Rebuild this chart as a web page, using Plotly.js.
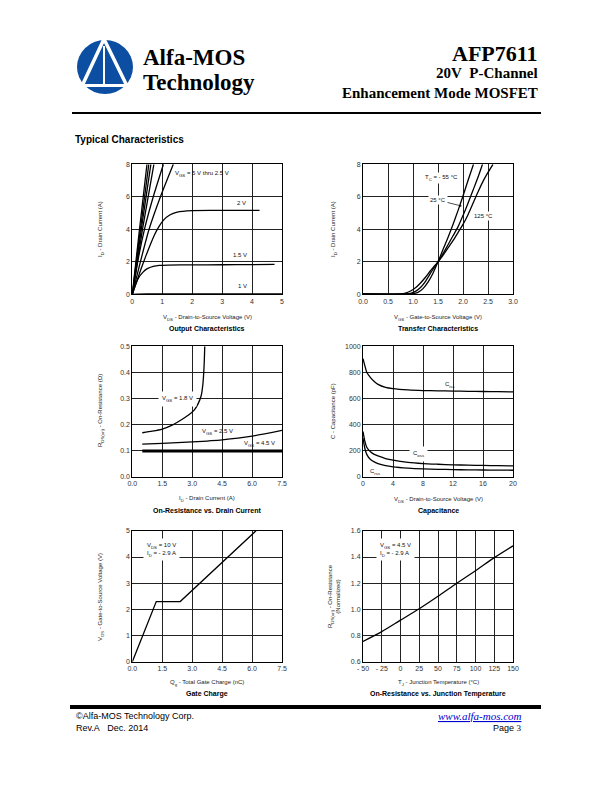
<!DOCTYPE html>
<html>
<head>
<meta charset="utf-8">
<script src="https://cdn.plot.ly/plotly-3.0.1.min.js"></script>
<style>html,body{margin:0;padding:0;background:#fff;}#chart{width:612px;height:792px;}</style>
</head>
<body>
<div id="chart"></div>
<script>
// ---------- DATA ----------
// Output characteristics (VDS in V, ID in A)
const outVgs5Vds = [0, 0.24, 0.49];          const outVgs5Id = [0, 4, 8];
const outVgs45Vds = [0, 0.27, 0.55];         const outVgs45Id = [0, 4, 8];
const outVgs4Vds = [0, 0.3, 0.62];           const outVgs4Id = [0, 4, 8];
const outVgs35Vds = [0, 0.34, 0.72];         const outVgs35Id = [0, 4, 8];
const outVgs3Vds = [0, 0.2, 0.42, 0.7, 1.04]; const outVgs3Id = [0, 2.2, 4.1, 6.0, 8];
const outVgs25Vds = [0, 0.27, 0.56, 0.94, 1.37]; const outVgs25Id = [0, 2.0, 4.0, 6.0, 8];
const outVgs2Vds = [0, 0.15, 0.3, 0.45, 0.6, 0.75, 0.9, 1.05, 1.25, 1.5, 2.0, 3.0, 4.25];
const outVgs2Id  = [0, 0.8, 1.6, 2.35, 3.05, 3.7, 4.2, 4.58, 4.88, 5.06, 5.15, 5.16, 5.16];
const outVgs15Vds = [0, 0.1, 0.2, 0.35, 0.5, 0.7, 0.9, 1.2, 2, 3, 4, 4.75];
const outVgs15Id  = [0, 0.55, 0.98, 1.35, 1.58, 1.72, 1.78, 1.8, 1.81, 1.82, 1.83, 1.84];
const outVgs1Vds = [0, 0.5, 5];              const outVgs1Id = [0, 0.02, 0.03];

// Transfer characteristics (VGS in V, ID in A)
const trM55Vgs = [0, 0.9, 1.0, 1.1, 1.2, 1.3, 1.4, 1.5, 1.6, 1.7, 1.8, 1.9, 2.0, 2.1, 2.21];
const trM55Id  = [0.02, 0.02, 0.04, 0.12, 0.35, 0.75, 1.3, 2.0, 2.75, 3.5, 4.3, 5.15, 6.05, 7.0, 8];
const tr25Vgs = [0, 0.85, 0.95, 1.05, 1.15, 1.25, 1.35, 1.5, 1.6, 1.7, 1.8, 1.9, 2.0, 2.1, 2.2, 2.3, 2.39];
const tr25Id  = [0.02, 0.02, 0.06, 0.18, 0.42, 0.8, 1.3, 2.0, 2.5, 3.05, 3.6, 4.15, 4.85, 5.6, 6.4, 7.2, 8];
const tr125Vgs = [0, 0.75, 0.85, 0.95, 1.05, 1.15, 1.25, 1.35, 1.5, 1.6, 1.7, 1.8, 1.9, 2.0, 2.1, 2.2, 2.3, 2.4, 2.5, 2.6];
const tr125Id  = [0.02, 0.02, 0.07, 0.2, 0.4, 0.7, 1.05, 1.45, 2.0, 2.4, 2.85, 3.3, 3.8, 4.3, 4.9, 5.6, 6.3, 6.95, 7.5, 8];

// On-resistance vs drain current (ID in A, R in ohm)
const ronVgs18Id = [0.5, 1.0, 1.5, 2.0, 2.4, 2.8, 3.1, 3.3, 3.45, 3.53, 3.58, 3.61, 3.63];
const ronVgs18R  = [0.168, 0.174, 0.182, 0.197, 0.215, 0.235, 0.255, 0.28, 0.31, 0.35, 0.4, 0.45, 0.5];
const ronVgs25Id = [0.5, 1.5, 3.0, 4.5, 6.0, 7.5];
const ronVgs25R  = [0.124, 0.127, 0.133, 0.141, 0.155, 0.177];
const ronVgs45Id = [0.5, 2.0, 4.0, 6.0, 7.5];
const ronVgs45R  = [0.098, 0.098, 0.098, 0.098, 0.098];

// Capacitance (VDS in V, C in pF)
const capVds = [0, 0.25, 0.5, 1, 1.5, 2, 3, 4, 6, 8, 10, 12, 14, 16, 18, 20];
const capCiss = [905, 850, 800, 760, 730, 708, 685, 675, 665, 660, 658, 656, 654, 653, 652, 650];
const capCoss = [345, 270, 225, 190, 170, 158, 138, 125, 108, 99, 94, 90, 87, 85, 83, 82];
const capCrss = [295, 215, 170, 130, 112, 99, 83, 74, 64, 58, 55, 53, 51, 50, 49, 48];

// Gate charge (Qg in nC, VGS in V)
const gcQg = [0, 1.2, 2.4, 6.2];
const gcVgs = [0, 2.3, 2.3, 5];

// On-resistance vs junction temperature (TJ in C, normalized R)
const rtTj = [-50, -25, 0, 25, 50, 75, 100, 125, 150];
const rtR  = [0.755, 0.83, 0.918, 1.005, 1.1, 1.2, 1.295, 1.395, 1.485];

// Tick labels
const tjTickVals = [-50, -25, 0, 25, 50, 75, 100, 125, 150];
const tjTickText = ['- 50', '- 25', '0', '25', '50', '75', '100', '125', '150'];

// ---------- LAYOUT HELPERS ----------
const W = 612, H = 792;
const px = x => x / W;
const py = y => 1 - y / H;
const SANS = 'Liberation Sans, Arial, sans-serif';
const SERIF = 'Liberation Serif, Times New Roman, serif';
// subscript with an explicit pixel size
const s = t => '<span style="font-size:4.3px;baseline-shift:-1.6px">' + t + '</span>';

function ln(x, y, xa, ya, opts) {
  return Object.assign({type: 'scatter', mode: 'lines', x: x, y: y, xaxis: xa, yaxis: ya,
    line: {color: '#000', width: 1.3, shape: 'spline', smoothing: 0.6}, hoverinfo: 'skip', showlegend: false}, opts || {});
}

const data = [
  ln(outVgs5Vds, outVgs5Id, 'x', 'y'),
  ln(outVgs45Vds, outVgs45Id, 'x', 'y'),
  ln(outVgs4Vds, outVgs4Id, 'x', 'y'),
  ln(outVgs35Vds, outVgs35Id, 'x', 'y'),
  ln(outVgs3Vds, outVgs3Id, 'x', 'y'),
  ln(outVgs25Vds, outVgs25Id, 'x', 'y'),
  ln(outVgs2Vds, outVgs2Id, 'x', 'y'),
  ln(outVgs15Vds, outVgs15Id, 'x', 'y'),
  ln(outVgs1Vds, outVgs1Id, 'x', 'y'),

  ln(trM55Vgs, trM55Id, 'x2', 'y2'),
  ln(tr25Vgs, tr25Id, 'x2', 'y2'),
  ln(tr125Vgs, tr125Id, 'x2', 'y2'),

  ln(ronVgs18Id, ronVgs18R, 'x3', 'y3'),
  ln(ronVgs25Id, ronVgs25R, 'x3', 'y3'),
  ln(ronVgs45Id, ronVgs45R, 'x3', 'y3', {line: {color: '#000', width: 3}}),

  ln(capVds, capCiss, 'x4', 'y4'),
  ln(capVds, capCoss, 'x4', 'y4'),
  ln(capVds, capCrss, 'x4', 'y4'),

  ln(gcQg, gcVgs, 'x5', 'y5', {line: {color: '#000', width: 1.3, shape: 'linear'}}),

  ln(rtTj, rtR, 'x6', 'y6')
];

const LX = [px(132.3), px(282)];
const RX = [px(363), px(513)];
const R1 = [py(294.3), py(164.3)];
const R2 = [py(476.5), py(346.3)];
const R3 = [py(661.8), py(530.8)];

function ax(domain, range, dtick, anchor, extra) {
  return Object.assign({
    domain: domain, range: range, dtick: dtick, tick0: range[0], anchor: anchor,
    showline: true, mirror: true, linecolor: '#000', linewidth: 1,
    showgrid: true, gridcolor: '#222', gridwidth: 1, zeroline: false,
    ticks: '', tickfont: {family: SANS, size: 7, color: '#333'}, fixedrange: true
  }, extra || {});
}

const tinyFont = {family: SANS, size: 6, color: '#111'};
const titleFont = {family: SANS, size: 6, color: '#222'};
const capFont = {family: SANS, size: 7, color: '#000', weight: 'bold'};

function pa(text, x, y, font, extra) {
  return Object.assign({text: text, x: px(x), y: py(y), xref: 'paper', yref: 'paper',
    showarrow: false, xanchor: 'center', yanchor: 'middle', font: font || titleFont}, extra || {});
}
function da(text, x, y, xr, yr, extra) {
  return Object.assign({text: text, x: x, y: y, xref: xr, yref: yr, showarrow: false,
    xanchor: 'left', yanchor: 'middle', font: tinyFont, bgcolor: '#fff', borderpad: 1}, extra || {});
}

const annotations = [
  // header
  pa('<b>Alfa-MOS</b>', 141, 58, {family: SERIF, size: 23, color: '#000'}, {xanchor: 'left'}),
  pa('<b>Technology</b>', 141, 83, {family: SERIF, size: 23, color: '#000'}, {xanchor: 'left'}),
  pa('<b>AFP7611</b>', 540, 54, {family: SERIF, size: 22, color: '#000'}, {xanchor: 'right'}),
  pa('<b>20V\u00a0\u00a0P-Channel</b>', 540, 73.5, {family: SERIF, size: 15, color: '#000'}, {xanchor: 'right'}),
  pa('<b>Enhancement Mode MOSFET</b>', 540, 93, {family: SERIF, size: 15, color: '#000'}, {xanchor: 'right'}),
  pa('<b>Typical Characteristics</b>', 73, 139, {family: SANS, size: 10, color: '#000'}, {xanchor: 'left'}),

  // plot 1
  pa('V' + s('DS') + ' - Drain-to-Source Voltage (V)', 207, 317.5, titleFont),
  pa('Output Characteristics', 207, 328.5, capFont),
  pa('I' + s('D') + ' - Drain Current (A)', 101, 229, titleFont, {textangle: -90}),
  da('V' + s('GS') + ' = 5 V thru 2.5 V', 1.36, 7.4, 'x', 'y', {bgcolor: 'rgba(0,0,0,0)'}),
  da('2 V', 3.42, 5.6, 'x', 'y', {bgcolor: 'rgba(0,0,0,0)'}),
  da('1.5 V', 3.28, 2.42, 'x', 'y', {bgcolor: 'rgba(0,0,0,0)'}),
  da('1 V', 3.46, 0.51, 'x', 'y', {bgcolor: 'rgba(0,0,0,0)'}),

  // plot 2
  pa('V' + s('GS') + ' - Gate-to-Source Voltage (V)', 438, 317.5, titleFont),
  pa('Transfer Characteristics', 438, 328.5, capFont),
  pa('I' + s('D') + ' - Drain Current (A)', 334, 229, titleFont, {textangle: -90}),
  da('T' + s('C') + ' = - 55 °C', 1.57, 7.14, 'x2', 'y2', {xanchor: 'center'}),
  {text: '25 °C', x: 1.97, y: 5.43, xref: 'x2', yref: 'y2', ax: 1.5, ay: 5.8, axref: 'x2', ayref: 'y2',
   showarrow: true, arrowhead: 1, arrowsize: 0.6, arrowwidth: 0.7, arrowcolor: '#000', standoff: 0,
   font: tinyFont, bgcolor: '#fff', borderpad: 1},
  da('125 °C', 2.41, 4.82, 'x2', 'y2', {xanchor: 'center'}),

  // plot 3
  pa('I' + s('D') + ' - Drain Current (A)', 207, 499, titleFont),
  pa('On-Resistance vs. Drain Current', 207, 510.5, capFont),
  pa('R' + s('DS(on)') + ' - On-Resistance (Ω)', 101, 411, titleFont, {textangle: -90}),
  da('V' + s('GS') + ' = 1.8 V', 1.3, 0.297, 'x3', 'y3', {borderpad: 3}),
  da('V' + s('GS') + ' = 2.5 V', 3.39, 0.169, 'x3', 'y3', {bgcolor: 'rgba(0,0,0,0)'}),
  da('V' + s('GS') + ' = 4.5 V', 5.5, 0.124, 'x3', 'y3', {bgcolor: 'rgba(0,0,0,0)'}),

  // plot 4
  pa('V' + s('DS') + ' - Drain-to-Source Voltage (V)', 438, 500, titleFont),
  pa('Capacitance', 438, 510.5, capFont),
  pa('C - Capacitance (pF)', 333, 411, titleFont, {textangle: -90}),
  da('C' + s('iss'), 11.6, 706, 'x4', 'y4', {xanchor: 'center', bgcolor: 'rgba(0,0,0,0)'}),
  da('C' + s('oss'), 7.4, 171, 'x4', 'y4', {xanchor: 'center', borderpad: 3}),
  da('C' + s('rss'), 1.6, 38, 'x4', 'y4', {xanchor: 'center', bgcolor: 'rgba(0,0,0,0)'}),

  // plot 5
  pa('Q' + s('g') + ' - Total Gate Charge (nC)', 207, 683, titleFont),
  pa('Gate Charge', 207, 694, capFont),
  pa('V' + s('GS') + ' - Gate-to-Source Voltage (V)', 101, 597, titleFont, {textangle: -90}),
  da('V' + s('DS') + ' = 10 V<br>I' + s('D') + ' = - 2.9 A', 1.44, 4.27, 'x5', 'y5', {xanchor: 'center', borderpad: 3, align: 'left'}),

  // plot 6
  pa('T' + s('J') + ' - Junction Temperature (°C)', 438, 683, titleFont),
  pa('On-Resistance vs. Junction Temperature', 438, 694, capFont),
  pa('R' + s('DS(on)') + ' - On-Resistance<br>(Normalized)', 334, 596, titleFont, {textangle: -90}),
  da('V' + s('GS') + ' = 4.5 V<br>I' + s('D') + ' = - 2.9 A', -7, 1.458, 'x6', 'y6', {xanchor: 'center', borderpad: 3, align: 'left'}),

  // footer
  pa('©Alfa-MOS Technology Corp.', 74, 715.5, {family: SANS, size: 9, color: '#000'}, {xanchor: 'left'}),
  pa('Rev.A\u00a0\u00a0\u00a0Dec. 2014', 74, 728, {family: SANS, size: 9, color: '#000'}, {xanchor: 'left'}),
  pa('<i><u>www.alfa-mos.com</u></i>', 523.5, 716, {family: SERIF, size: 11, color: '#0000cc'}, {xanchor: 'right'}),
  pa('Page <span style="font-family:Liberation Serif">3</span>', 523.5, 728, {family: SANS, size: 9, color: '#000'}, {xanchor: 'right'})
];

const shapes = [
  // header rule and footer bar
  {type: 'rect', xref: 'paper', yref: 'paper', x0: px(72), x1: px(541), y0: py(114), y1: py(112), fillcolor: '#000', line: {width: 0}},
  {type: 'rect', xref: 'paper', yref: 'paper', x0: px(70), x1: px(541), y0: py(709), y1: py(705), fillcolor: '#000', line: {width: 0}},
  // logo
  {type: 'circle', xref: 'paper', yref: 'paper', x0: px(77), x1: px(133), y0: py(94), y1: py(40), fillcolor: '#0b4ea2', line: {width: 0}},
  {type: 'path', xref: 'paper', yref: 'paper',
   path: 'M ' + px(104) + ' ' + py(39) + ' L ' + px(82) + ' ' + py(86) + ' M ' + px(104) + ' ' + py(39) + ' L ' + px(127) + ' ' + py(86),
   line: {color: '#fff', width: 3.5}},
  {type: 'line', xref: 'paper', yref: 'paper', x0: px(104), x1: px(104), y0: py(46), y1: py(86), line: {color: '#fff', width: 2}},
  {type: 'line', xref: 'paper', yref: 'paper', x0: px(81), x1: px(128), y0: py(85.5), y1: py(85.5), line: {color: '#fff', width: 3}}
];

const layout = {
  width: W, height: H, margin: {l: 0, r: 0, t: 0, b: 0},
  font: {family: SANS, size: 7, color: '#222'},
  paper_bgcolor: '#fff', plot_bgcolor: '#fff', showlegend: false,
  xaxis:  ax(LX, [0, 5], 1, 'y'),
  yaxis:  ax(R1, [0, 8], 2, 'x'),
  xaxis2: ax(RX, [0, 3], 0.5, 'y2', {tickformat: '.1f'}),
  yaxis2: ax(R1, [0, 8], 2, 'x2'),
  xaxis3: ax(LX, [0, 7.5], 1.5, 'y3', {tickformat: '.1f'}),
  yaxis3: ax(R2, [0, 0.5], 0.1, 'x3', {tickformat: '.1f'}),
  xaxis4: ax(RX, [0, 20], 4, 'y4'),
  yaxis4: ax(R2, [0, 1000], 200, 'x4'),
  xaxis5: ax(LX, [0, 7.5], 1.5, 'y5', {tickformat: '.1f'}),
  yaxis5: ax(R3, [0, 5], 1, 'x5'),
  xaxis6: ax(RX, [-50, 150], 25, 'y6', {tickmode: 'array', tickvals: tjTickVals, ticktext: tjTickText}),
  yaxis6: ax(R3, [0.6, 1.6], 0.2, 'x6', {tickformat: '.1f'}),
  annotations: annotations,
  shapes: shapes
};

Plotly.newPlot('chart', data, layout, {staticPlot: true, displayModeBar: false});
</script>
</body>
</html>
